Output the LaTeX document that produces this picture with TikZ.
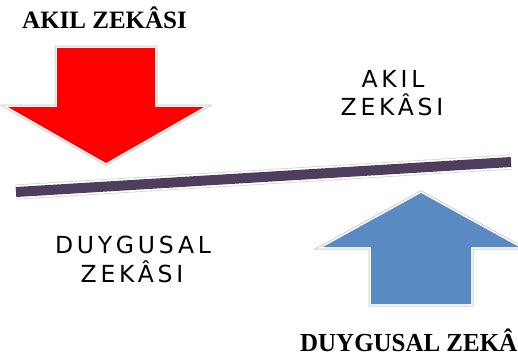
\documentclass[tikz,border=0pt]{standalone}
\usepackage{fontspec}
\setmainfont{Liberation Serif}
\newfontfamily\lblsans[LetterSpace=16]{DejaVu Sans}
\definecolor{arrred}{HTML}{FF0000}
\definecolor{arrblue}{HTML}{5A8AC4}
\definecolor{barpurple}{HTML}{4F3D5E}
\begin{document}
\begin{tikzpicture}[x=1pt,y=-1pt,
  arrowrim/.style={draw=white,line width=3pt,line join=miter},
  sanslbl/.style={font=\lblsans\fontsize{23.5}{26}\selectfont,inner sep=0pt,anchor=base},
  seriflbl/.style={font=\bfseries\fontsize{25}{28}\selectfont,inner sep=0pt,anchor=base west}]
\useasboundingbox[fill=white] (0,0) rectangle (518,359);
% red down arrow
\path[fill=white,preaction={draw=black!18,line width=5pt}] (57,48) -- (155,48) -- (155,107) -- (204,107) -- (106,163) -- (8,107) -- (57,107) -- cycle;
\draw[arrowrim] (57,48) -- (155,48) -- (155,107) -- (204,107) -- (106,163) -- (8,107) -- (57,107) -- cycle;
\fill[arrred] (57,48) -- (155,48) -- (155,107) -- (204,107) -- (106,163) -- (8,107) -- (57,107) -- cycle;
% blue up arrow
\path[fill=white,preaction={draw=black!18,line width=5pt}] (371,304) -- (371,247) -- (323,247) -- (421,193) -- (519,247) -- (471,247) -- (471,304) -- cycle;
\draw[arrowrim] (371,304) -- (371,247) -- (323,247) -- (421,193) -- (519,247) -- (471,247) -- (471,304) -- cycle;
\fill[arrblue] (371,304) -- (371,247) -- (323,247) -- (421,193) -- (519,247) -- (471,247) -- (471,304) -- cycle;
% bar
\coordinate (bl) at (16,192);
\coordinate (br) at (511,162);
\draw[black!18,line width=15pt] (bl) -- (br);
\draw[white,line width=13.6pt] (bl) -- (br);
\draw[barpurple,line width=10pt] (bl) -- (br);
% labels
\node[seriflbl] (topt) at (22,28) {AKIL ZEKÂSI};
\node[seriflbl] (bott) at (300,351) {\scalebox{0.96}[1]{\fontsize{26}{30}\selectfont DUYGUSAL ZEKÂ}};
\node[sanslbl] (ak1) at (393,87) {AKIL};
\node[sanslbl] (ak2) at (392,115) {ZEKÂSI};
\node[sanslbl] (dy1) at (133,253) {DUYGUSAL};
\node[sanslbl] (dy2) at (132,282) {ZEKÂSI};
\end{tikzpicture}
\end{document}
